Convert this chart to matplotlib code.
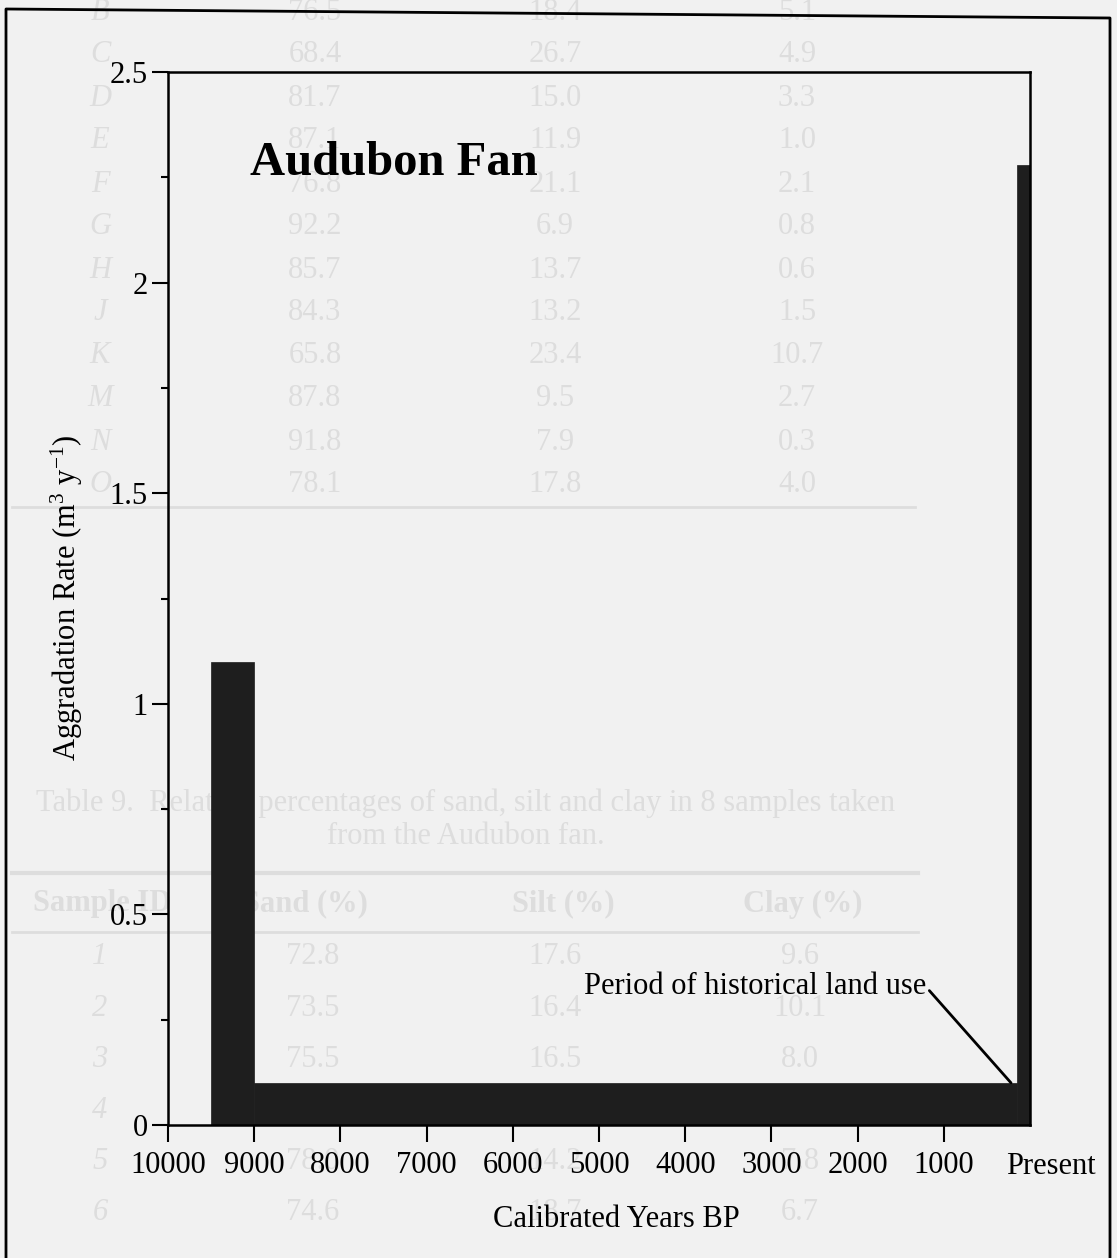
import matplotlib
matplotlib.use('Agg')
import matplotlib.pyplot as plt
from matplotlib.lines import Line2D
from matplotlib.ticker import MultipleLocator

plt.rcParams['font.family'] = ['Liberation Serif', 'DejaVu Serif']
plt.rcParams['mathtext.fontset'] = 'custom'
plt.rcParams['mathtext.rm'] = 'Liberation Serif'
plt.rcParams['mathtext.it'] = 'Liberation Serif:italic'

# aggradation periods (calibrated years BP) and rates (m3/yr)
period_start = [9500, 9000, 150]
period_end = [9000, 150, 0]
rates = [1.1, 0.1, 2.28]

x_ticks = [10000, 9000, 8000, 7000, 6000, 5000, 4000, 3000, 2000, 1000]
x_labels = ['10000', '9000', '8000', '7000', '6000', '5000', '4000', '3000', '2000', '1000']
y_ticks = [0, 0.5, 1, 1.5, 2, 2.5]
y_labels = ['0', '0.5', '1', '1.5', '2', '2.5']

# faint table showing through from the other side of the page
ghost_top_ids = ['B', 'C', 'D', 'E', 'F', 'G', 'H', 'J', 'K', 'M', 'N', 'O']
ghost_top_sand = ['76.5', '68.4', '81.7', '87.1', '76.8', '92.2', '85.7', '84.3', '65.8', '87.8', '91.8', '78.1']
ghost_top_silt = ['18.4', '26.7', '15.0', '11.9', '21.1', '6.9', '13.7', '13.2', '23.4', '9.5', '7.9', '17.8']
ghost_top_clay = ['5.1', '4.9', '3.3', '1.0', '2.1', '0.8', '0.6', '1.5', '10.7', '2.7', '0.3', '4.0']
ghost_bot_ids = ['1', '2', '3', '4', '5', '6']
ghost_bot_sand = ['72.8', '73.5', '75.5', '76.2', '78.0', '74.6']
ghost_bot_silt = ['17.6', '16.4', '16.5', '15.9', '14.2', '18.7']
ghost_bot_clay = ['9.6', '10.1', '8.0', '7.9', '7.8', '6.7']

W, H = 1117, 1258
paper = '#f1f1f1'
ghost = '#dddddd'

fig = plt.figure(figsize=(W / 100, H / 100), dpi=100, facecolor=paper)


def px(x, y):
    return x / W, 1 - y / H


def ghost_text(x, y, s, **kw):
    fig.text(*px(x, y), s, color=ghost, fontsize=22, ha='center', va='center', zorder=-5, **kw)


def ghost_line(x0, x1, y, lw):
    fig.add_artist(Line2D([x0 / W, x1 / W], [1 - y / H, 1 - y / H], transform=fig.transFigure,
                          color=ghost, lw=lw, zorder=-5))


# ghost table
for i in range(len(ghost_top_ids)):
    y = 12 + i * 43.0
    ghost_text(100, y, ghost_top_ids[i], style='italic')
    ghost_text(315, y, ghost_top_sand[i])
    ghost_text(555, y, ghost_top_silt[i])
    ghost_text(797, y, ghost_top_clay[i])
ghost_line(12, 915, 507, 2)
ghost_text(466, 803, 'Table 9.  Relative percentages of sand, silt and clay in 8 samples taken')
ghost_text(466, 837, 'from the Audubon fan.')
ghost_line(12, 918, 873, 3)
for label, gx in zip(['Sample ID', 'Sand (%)', 'Silt (%)', 'Clay (%)'], [102, 305, 563, 803]):
    ghost_text(gx, 904, label, weight='bold')
ghost_line(12, 918, 932, 2)
for i in range(len(ghost_bot_ids)):
    y = 957 + i * 51.2
    ghost_text(100, y, ghost_bot_ids[i], style='italic')
    ghost_text(313, y, ghost_bot_sand[i])
    ghost_text(555, y, ghost_bot_silt[i])
    ghost_text(800, y, ghost_bot_clay[i])

# outer frame of the figure panel
fig.add_artist(Line2D([6 / W, 6 / W, 1110 / W, 1110 / W], [0, 1 - 9 / H, 1 - 18 / H, 0],
                      transform=fig.transFigure, color='black', lw=2))

ax = fig.add_axes([168 / W, 1 - 1125 / H, (1030 - 168) / W, (1125 - 72) / H])
ax.set_facecolor('none')

widths = [s - e for s, e in zip(period_start, period_end)]
ax.bar(period_end, rates, width=widths, align='edge', color='#1e1e1e', edgecolor='#1e1e1e', lw=0.5, zorder=2)

ax.set_xlim(10000, 0)
ax.set_ylim(0, 2.5)
ax.set_xticks(x_ticks)
ax.set_xticklabels(x_labels)
ax.set_yticks(y_ticks)
ax.set_yticklabels(y_labels)
ax.yaxis.set_minor_locator(MultipleLocator(0.25))

ax.tick_params(axis='x', which='major', direction='out', length=12, width=1.5, pad=7, labelsize=22)
ax.tick_params(axis='y', which='major', direction='out', length=11.5, width=1.5, pad=3, labelsize=22)
ax.tick_params(axis='y', which='minor', direction='out', length=5, width=1.5)
for s in ax.spines.values():
    s.set_linewidth(1.8)

ax.annotate('Present', xy=(0, 0), xycoords=('data', 'axes fraction'), xytext=(15, -19.5),
            textcoords='offset points', ha='center', va='top', fontsize=22)

ax.set_xlabel('Calibrated Years BP', fontsize=22)
ax.xaxis.set_label_coords(0.52, -0.076)
ax.set_ylabel(r'Aggradation Rate (m$^{\mathregular{3}}$ y$^{\mathregular{-1}}$)', fontsize=22)
ax.yaxis.set_label_coords(-0.096, 0.501)

ax.text(9050, 2.284, 'Audubon Fan', fontsize=35, weight='bold', ha='left', va='center')

ax.annotate('Period of historical land use', xy=(220, 0.1), xytext=(1200, 0.33),
            ha='right', va='center', fontsize=22,
            arrowprops=dict(arrowstyle='-', color='black', lw=2, relpos=(1.0, 0.45),
                            shrinkA=0, shrinkB=0))

fig.savefig('out.png', dpi=100, facecolor=paper)
